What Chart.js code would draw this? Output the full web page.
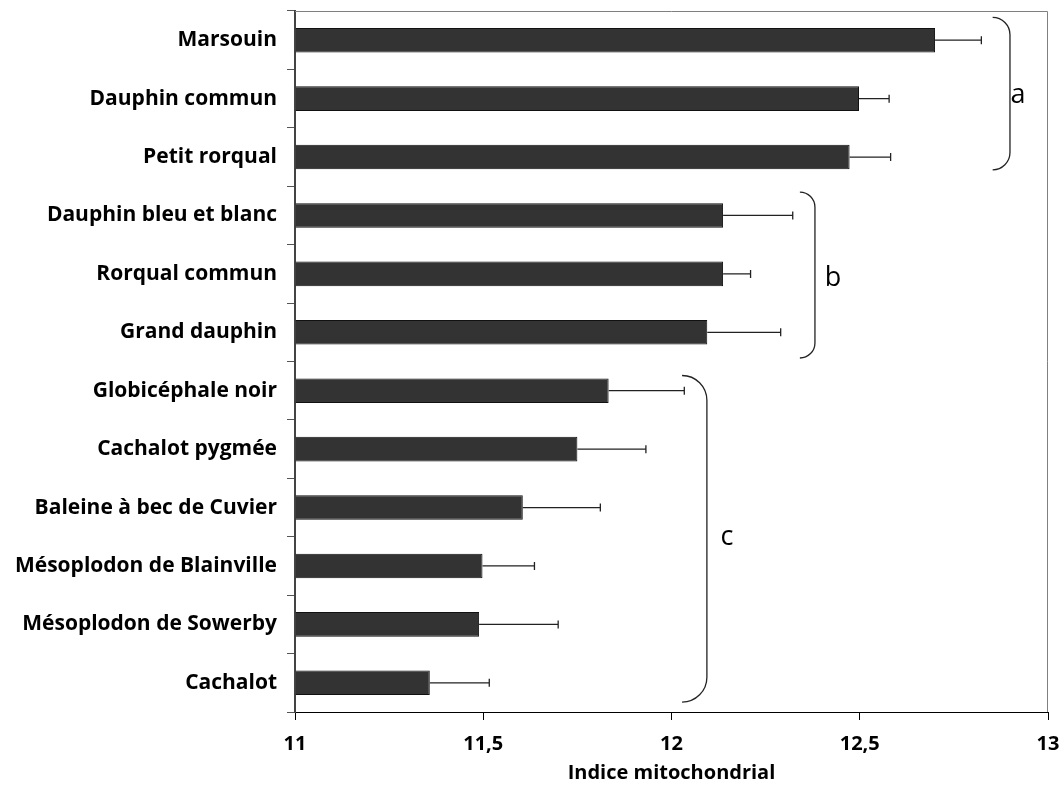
<!DOCTYPE html>
<html>
<head>
<meta charset="utf-8">
<script src="https://cdn.jsdelivr.net/npm/chart.js@4"></script>
<style>
    body { margin: 0; background: #fff; }
</style>
</head>
<body>
<canvas id="myBarChart" width="1062" height="787"></canvas>
<script>
    const especes = ['Marsouin', 'Dauphin commun', 'Petit rorqual', 'Dauphin bleu et blanc', 'Rorqual commun',
        'Grand dauphin', 'Globicéphale noir', 'Cachalot pygmée', 'Baleine à bec de Cuvier',
        'Mésoplodon de Blainville', 'Mésoplodon de Sowerby', 'Cachalot'];
    const indiceMoyen = [12.70, 12.498, 12.473, 12.137, 12.137, 12.095, 11.833, 11.75, 11.605, 11.498, 11.489, 11.358];
    const erreur = [0.123, 0.08, 0.109, 0.185, 0.073, 0.195, 0.201, 0.182, 0.206, 0.138, 0.21, 0.158];
    const xTicks = [11, 11.5, 12, 12.5, 13];
    const groupes = ['a', 'b', 'c'];

    const police = '"Open Sans", "DejaVu Sans", sans-serif';

    // accolades a / b / c (position en unités des axes)
    const accolades = [
        {from: -0.39, to: 2.22, tip: 12.853, spine: 12.899, labelX: 12.92, labelY: 1.07},
        {from: 2.6, to: 5.44, tip: 12.341, spine: 12.381, labelX: 12.429, labelY: 4.2},
        {from: 5.74, to: 11.33, tip: 12.028, spine: 12.094, labelX: 12.147, labelY: 8.64}
    ];

    const errorBarsPlugin = {
        id: 'errorBars',
        afterDatasetsDraw(chart) {
            const ctx = chart.ctx;
            const xs = chart.scales.x;
            const meta = chart.getDatasetMeta(0);
            ctx.save();
            ctx.strokeStyle = '#222';
            ctx.lineWidth = 1.3;
            meta.data.forEach((bar, i) => {
                let x1 = xs.getPixelForValue(indiceMoyen[i] + erreur[i]);
                ctx.beginPath();
                ctx.moveTo(bar.x, bar.y);
                ctx.lineTo(x1, bar.y);
                ctx.moveTo(x1, bar.y - 4);
                ctx.lineTo(x1, bar.y + 4);
                ctx.stroke();
            });
            ctx.restore();
        }
    };

    const cadrePlugin = {
        id: 'cadre',
        afterDraw(chart) {
            const ctx = chart.ctx;
            const a = chart.chartArea;
            ctx.save();
            ctx.strokeStyle = '#808080';
            ctx.lineWidth = 1;
            ctx.beginPath();
            ctx.moveTo(a.left, a.top + 0.5);
            ctx.lineTo(a.right - 0.5, a.top + 0.5);
            ctx.lineTo(a.right - 0.5, a.bottom);
            ctx.stroke();
            ctx.restore();
        }
    };

    const accoladesPlugin = {
        id: 'accolades',
        afterDraw(chart) {
            const ctx = chart.ctx;
            const xs = chart.scales.x;
            const ys = chart.scales.y;
            ctx.save();
            ctx.strokeStyle = '#222';
            ctx.lineWidth = 1.3;
            ctx.fillStyle = '#000';
            ctx.font = '27px ' + police;
            ctx.textAlign = 'center';
            ctx.textBaseline = 'alphabetic';
            accolades.forEach((g, i) => {
                let xa = xs.getPixelForValue(g.tip);
                let xb = xs.getPixelForValue(g.spine);
                let ya = ys.getPixelForValue(g.from);
                let yb = ys.getPixelForValue(g.to);
                let r = xb - xa;
                ctx.beginPath();
                ctx.moveTo(xa, ya);
                ctx.ellipse(xa, ya + r, r, r, 0, -Math.PI / 2, 0);
                ctx.lineTo(xb, yb - r);
                ctx.ellipse(xa, yb - r, r, r, 0, 0, Math.PI / 2);
                ctx.stroke();
                ctx.fillText(groupes[i], xs.getPixelForValue(g.labelX), ys.getPixelForValue(g.labelY));
            });
            ctx.restore();
        }
    };

    // pas de marge automatique autour des étiquettes
    function sansMarge(scale) {
        scale.paddingTop = 0;
        scale.paddingBottom = 0;
        scale.paddingLeft = 0;
        scale.paddingRight = 0;
    }

    let ctx = document.getElementById('myBarChart').getContext('2d');

    let myBarChart = new Chart(ctx, {
        type: 'bar',
        data: {
            labels: especes,
            datasets: [{
                data: indiceMoyen,
                base: 11,
                backgroundColor: '#333333',
                borderColor: '#111111',
                borderWidth: 1,
                barPercentage: 0.42,
                categoryPercentage: 1
            }]
        },
        options: {
            indexAxis: 'y',
            responsive: false,
            animation: false,
            layout: {
                padding: {top: 11, right: 14, bottom: 0, left: 0}
            },
            plugins: {
                legend: {display: false},
                tooltip: {enabled: false}
            },
            scales: {
                x: {
                    type: 'linear',
                    min: 11,
                    max: 13,
                    afterBuildTicks: (scale) => {
                        scale.ticks = xTicks.map(v => ({value: v}));
                    },
                    afterFit: (scale) => {
                        scale.height = 75;
                        sansMarge(scale);
                    },
                    ticks: {
                        callback: (v) => String(v).replace('.', ','),
                        font: {family: police, size: 20, weight: 'bold'},
                        color: '#000',
                        padding: 12,
                        maxRotation: 0
                    },
                    grid: {
                        drawOnChartArea: false,
                        tickLength: 8,
                        color: '#000'
                    },
                    border: {color: '#000', width: 1},
                    title: {
                        display: true,
                        text: 'Indice mitochondrial',
                        font: {family: police, size: 20, weight: 'bold'},
                        color: '#000',
                        padding: {top: 0, bottom: 2}
                    }
                },
                y: {
                    type: 'category',
                    afterFit: (scale) => {
                        scale.width = 295;
                        sansMarge(scale);
                    },
                    ticks: {
                        font: {family: police, size: 21, weight: 'bold'},
                        color: '#000',
                        padding: 10
                    },
                    grid: {
                        drawOnChartArea: false,
                        offset: true,
                        tickLength: 8,
                        color: '#555'
                    },
                    border: {color: '#444', width: 2}
                }
            }
        },
        plugins: [errorBarsPlugin, cadrePlugin, accoladesPlugin]
    });
</script>
</body>
</html>
